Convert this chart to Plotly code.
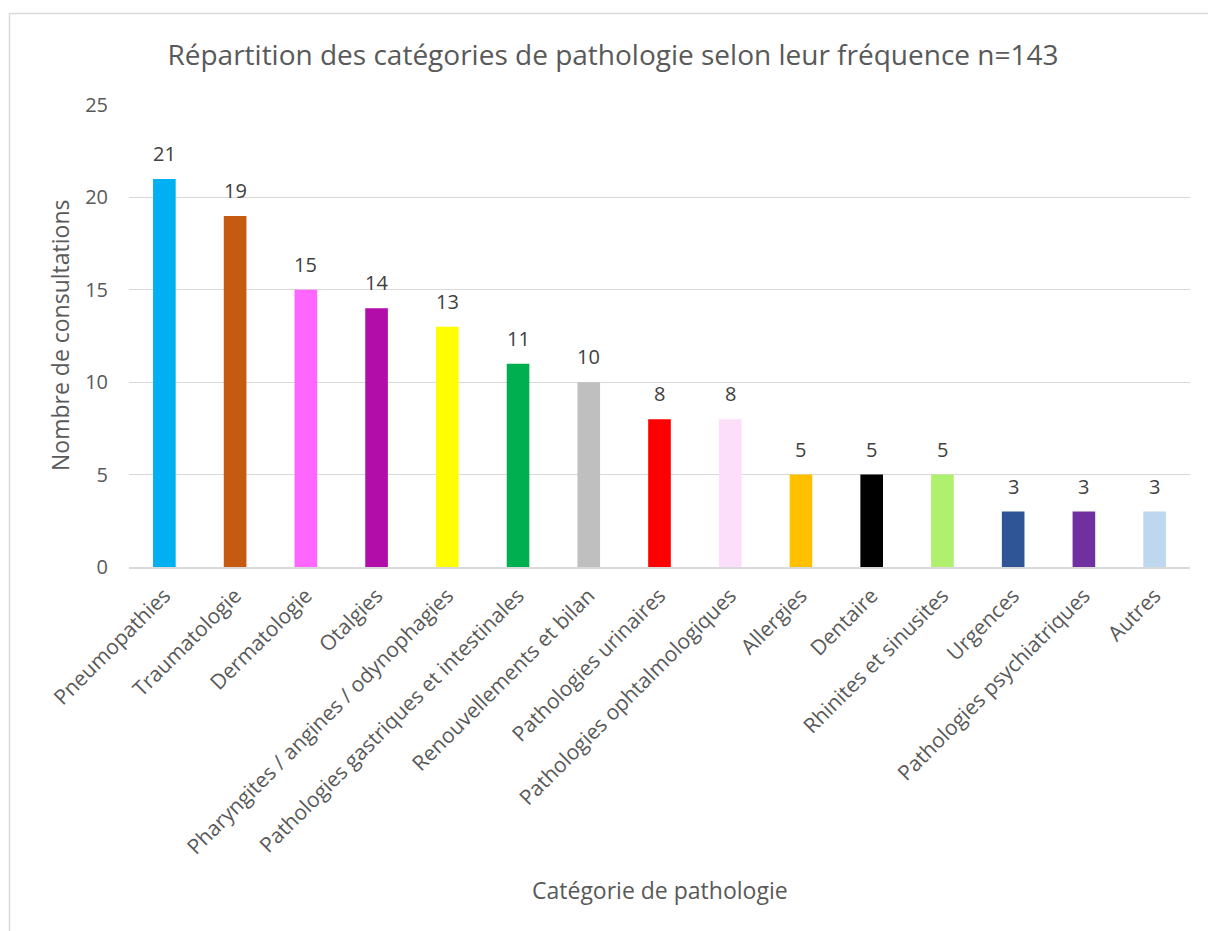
import plotly.graph_objects as go

categories = [
    "Pneumopathies", "Traumatologie", "Dermatologie", "Otalgies",
    "Pharyngites / angines / odynophagies",
    "Pathologies gastriques et intestinales",
    "Renouvellements et bilan", "Pathologies urinaires",
    "Pathologies ophtalmologiques", "Allergies", "Dentaire",
    "Rhinites et sinusites", "Urgences", "Pathologies psychiatriques", "Autres",
]
counts = [21, 19, 15, 14, 13, 11, 10, 8, 8, 5, 5, 5, 3, 3, 3]
bar_colors = [
    "#00B0F0", "#C55A11", "#FF66FF", "#B20DA8", "#FFFF00", "#00B050",
    "#BFBFBF", "#FF0000", "#FCDDFA", "#FFC000", "#000000", "#B0F06F",
    "#2F5597", "#7030A0", "#BDD7EE",
]
y_ticks = [0, 5, 10, 15, 20, 25]

FONT = "Open Sans"
GREY = "#595959"

W, H = 1208, 931
L, R, T, B = 129, 18, 105, 364

fig = go.Figure(
    go.Bar(
        x=categories,
        y=counts,
        marker=dict(color=bar_colors, line=dict(width=0)),
        hoverinfo="x+y",
    )
)

pw = W - L - R
ph = H - T - B

def px_x(p):
    return (p - L) / pw

def px_y(p):
    return (H - B - p) / ph

label_annotations = [
    dict(x=c, y=v, xref="x", yref="y", text=str(v), showarrow=False,
         xanchor="center", yanchor="bottom", yshift=10,
         font=dict(family=FONT, size=20, color="#404040"))
    for c, v in zip(categories, counts)
]

fig.update_layout(
    width=W,
    height=H,
    margin=dict(l=L, r=R, t=T, b=B, pad=0),
    paper_bgcolor="white",
    plot_bgcolor="white",
    bargap=0.68,
    showlegend=False,
    font=dict(family=FONT, color=GREY),
    title=dict(
        text="Répartition des catégories de pathologie selon leur fréquence n=143",
        font=dict(family=FONT, size=28, color=GREY),
        x=613 / W, xanchor="center", xref="container",
        y=1 - 55 / H, yanchor="middle", yref="container",
    ),
    xaxis=dict(
        tickangle=-45,
        tickfont=dict(family=FONT, size=21, color=GREY),
        showgrid=False,
        showline=True, linecolor="#D9D9D9", linewidth=2,
        ticks="",
        ticklabelstandoff=6,
    ),
    yaxis=dict(
        range=[0, 25],
        tickvals=y_ticks,
        tickfont=dict(family=FONT, size=20, color=GREY),
        showgrid=True, gridcolor="#D9D9D9", gridwidth=1,
        zeroline=False,
        showline=False,
        ticks="",
        ticklabelstandoff=20,
    ),
    annotations=label_annotations + [
        dict(text="Nombre de consultations", xref="paper", yref="paper",
             x=px_x(60), y=px_y(335), xanchor="center", yanchor="middle",
             textangle=-90, showarrow=False,
             font=dict(family=FONT, size=23, color=GREY)),
        dict(text="Catégorie de pathologie", xref="paper", yref="paper",
             x=px_x(660), y=px_y(890), xanchor="center", yanchor="middle",
             showarrow=False,
             font=dict(family=FONT, size=23, color=GREY)),
    ],
    shapes=[
        dict(type="line", xref="paper", yref="paper",
             x0=px_x(9), x1=px_x(1210), y0=px_y(13.5), y1=px_y(13.5),
             line=dict(color="#D9D9D9", width=1.5), layer="below"),
        dict(type="line", xref="paper", yref="paper",
             x0=px_x(9.5), x1=px_x(9.5), y0=px_y(13), y1=px_y(935),
             line=dict(color="#D9D9D9", width=1.5), layer="below"),
    ],
)

fig.write_html(
    "out.html",
    config={"displayModeBar": False},
    post_script="document.body.style.margin='0';document.body.style.overflow='hidden';",
)
